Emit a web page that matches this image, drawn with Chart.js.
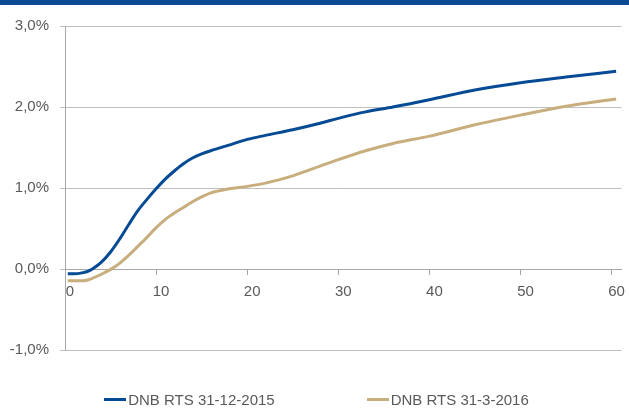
<!DOCTYPE html>
<html lang="nl">
<head>
  <meta charset="UTF-8">
  <title>DNB RTS</title>
  <style>
    body { margin: 0; padding: 0; background: #fff; font-family: "Liberation Sans", Arial, sans-serif; }
    #wrap { position: relative; width: 629px; height: 409px; overflow: hidden; }
    #band { position: absolute; left: 0; top: 0; width: 629px; height: 5px; background: #0b4a92; }
    #chart-box { position: absolute; left: 0; top: 0; width: 629px; height: 409px; }
    #legend { position: absolute; left: 2px; top: 391px; width: 629px; display: flex; justify-content: center; gap: 92px; font-size: 15px; color: #595959; }
    .item { display: flex; align-items: center; white-space: nowrap; }
    .swatch { display: inline-block; width: 22px; height: 3px; margin-right: 2px; }
  </style>
  <script src="https://cdn.jsdelivr.net/npm/chart.js"></script>
</head>
<body>
  <div id="wrap">
    <div id="chart-box"><canvas id="rts-chart" width="629" height="409"></canvas></div>
    <div id="band"></div>
    <div id="legend"></div>
  </div>
  <script>
    // looptijd in jaren
    const looptijd = [0.3, 1, 2, 2.5, 3, 4, 5, 6, 7, 8, 9, 10, 11, 12, 13, 14, 15, 16, 18, 20, 22, 25, 28, 30, 33, 36, 40, 45, 50, 55, 60.5];
    // rente in %
    const rts2015 = [-0.06, -0.06, -0.045, -0.03, 0.0, 0.085, 0.21, 0.37, 0.55, 0.72, 0.86, 0.99, 1.11, 1.21, 1.30, 1.37, 1.42, 1.46, 1.53, 1.60, 1.65, 1.72, 1.80, 1.86, 1.94, 2.00, 2.09, 2.21, 2.30, 2.37, 2.44];
    const rts2016 = [-0.145, -0.145, -0.145, -0.135, -0.115, -0.065, -0.005, 0.07, 0.17, 0.28, 0.39, 0.51, 0.61, 0.69, 0.76, 0.83, 0.89, 0.94, 0.99, 1.02, 1.06, 1.15, 1.27, 1.35, 1.46, 1.55, 1.64, 1.78, 1.90, 2.01, 2.10];
    const reeksNamen = ['DNB RTS 31-12-2015', 'DNB RTS 31-3-2016'];
    const kleuren = ['#054a94', '#c8ad7d'];

    function punten(ys) {
      return looptijd.map((x, i) => ({x: x, y: ys[i]}));
    }

    const grijs = '#595959';
    const font = {family: '"Liberation Sans", Arial, sans-serif', size: 15};

    new Chart(document.getElementById('rts-chart'), {
      type: 'line',
      data: {
        datasets: [rts2015, rts2016].map((ys, i) => ({
          label: reeksNamen[i],
          data: punten(ys),
          borderColor: kleuren[i],
          backgroundColor: kleuren[i],
          borderWidth: 3,
          pointRadius: 0,
          fill: false,
          cubicInterpolationMode: 'monotone'
        }))
      },
      options: {
        responsive: false,
        animation: false,
        layout: { padding: {top: 26, right: 5, bottom: 59, left: 0} },
        plugins: { legend: { display: false }, tooltip: { enabled: false } },
        scales: {
          x: {
            type: 'linear',
            position: {y: 0},
            min: 0,
            max: 61.1,
            border: { color: '#a6a6a6', width: 1 },
            grid: { drawOnChartArea: false, tickLength: 5, color: '#a6a6a6' },
            ticks: { stepSize: 10, includeBounds: false, color: grijs, font: font, padding: 9, labelOffset: 5, maxRotation: 0 }
          },
          y: {
            min: -1,
            max: 3,
            border: { color: '#a6a6a6', width: 1 },
            grid: { color: '#bfbfbf', tickLength: 5 },
            ticks: {
              stepSize: 1,
              color: grijs,
              font: font,
              padding: 11,
              callback: v => v.toFixed(1).replace('.', ',') + '%'
            },
            afterFit: scale => { scale.width = 65; }
          }
        }
      }
    });

    // legenda
    const legend = document.getElementById('legend');
    reeksNamen.forEach((naam, i) => {
      const item = document.createElement('span');
      item.className = 'item';
      item.innerHTML = '<span class="swatch" style="background:' + kleuren[i] + '"></span>' + naam;
      legend.appendChild(item);
    });
  </script>
</body>
</html>
